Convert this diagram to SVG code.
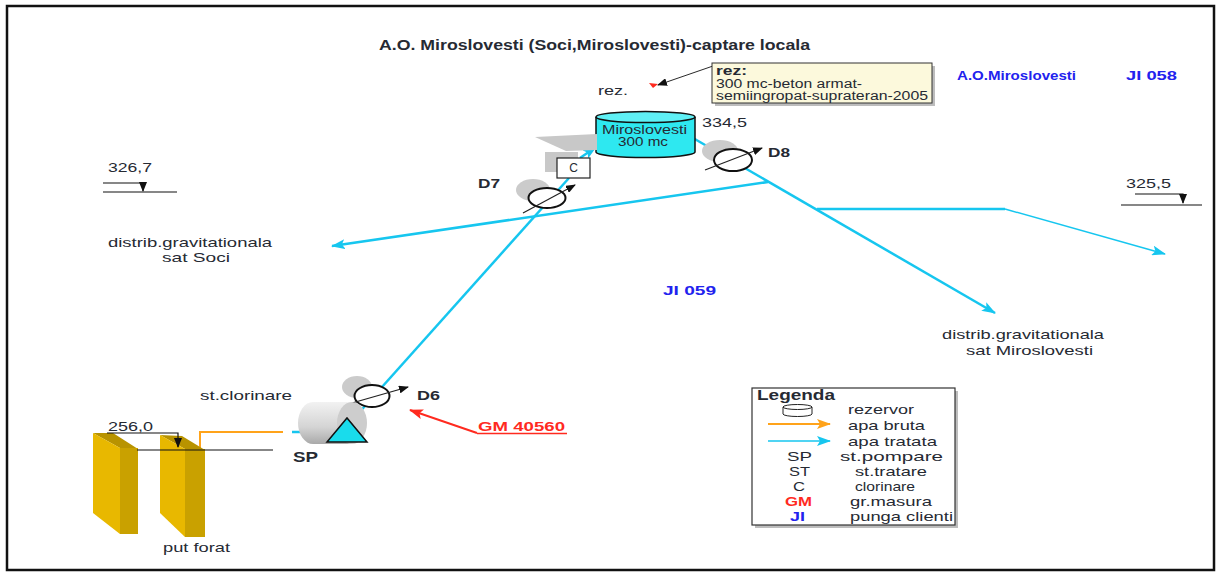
<svg xmlns="http://www.w3.org/2000/svg" width="1217" height="575" viewBox="0 0 1217 575">
  <style>
    .t { font-family: "Liberation Sans", Arial, sans-serif; fill: #262a33; }
    .n { font-size: 13px; }
    .s { font-size: 12px; }
    .l { font-size: 13px; }
    .b { font-weight: bold; }
    .blue { fill: #2222ee; font-weight: bold; }
    .red { fill: #ff2a1f; font-weight: bold; }
    .pipe { stroke: #16c6ef; stroke-width: 2.5; fill: none; }
    .pipe-thin { stroke: #16c6ef; stroke-width: 1.5; fill: none; }
    .raw { stroke: #ffa31a; stroke-width: 2; fill: none; }
    .lvl { stroke: #111; stroke-width: 1.2; fill: none; }
    .meter { fill: #fff; stroke: #111; stroke-width: 2; }
    .halo { fill: #cbcbcb; }
    .needle { stroke: #222; stroke-width: 1.2; }
  </style>
  <defs>
    <marker id="arrCyan" markerUnits="userSpaceOnUse" markerWidth="14" markerHeight="10" refX="13" refY="5" orient="auto">
      <path d="M0,0 L14,5 L0,10 L3,5 Z" fill="#16c6ef"/>
    </marker>
    <marker id="arrBlack" markerUnits="userSpaceOnUse" markerWidth="10" markerHeight="8" refX="9" refY="4" orient="auto">
      <path d="M0,0 L10,4 L0,8 Z" fill="#111"/>
    </marker>
    <marker id="arrRed" markerUnits="userSpaceOnUse" markerWidth="14" markerHeight="10" refX="13" refY="5" orient="auto">
      <path d="M0,0 L14,5 L0,10 L3,5 Z" fill="#ff2a1f"/>
    </marker>
    <marker id="arrOrange" markerUnits="userSpaceOnUse" markerWidth="14" markerHeight="10" refX="13" refY="5" orient="auto">
      <path d="M0,0 L14,5 L0,10 L3,5 Z" fill="#ffa31a"/>
    </marker>
    <linearGradient id="pumpBody" x1="0" y1="0" x2="0" y2="1">
      <stop offset="0" stop-color="#f2f2f2"/>
      <stop offset="0.6" stop-color="#d4d4d4"/>
      <stop offset="1" stop-color="#a9a9a9"/>
    </linearGradient>
  </defs>

  <!-- sheet frame -->
  <rect x="7" y="6" width="1207" height="564" fill="none" stroke="#111" stroke-width="2.5"/>

  <!-- title and zone labels -->
  <text class="t b" x="379" y="50" font-size="14" textLength="431" lengthAdjust="spacingAndGlyphs">A.O. Miroslovesti (Soci,Miroslovesti)-captare locala</text>
  <text class="t blue" x="957" y="80" font-size="13" textLength="119" lengthAdjust="spacingAndGlyphs">A.O.Miroslovesti</text>
  <text class="t blue" x="1126" y="80" font-size="13" textLength="51" lengthAdjust="spacingAndGlyphs">JI 058</text>
  <text class="t blue" x="663" y="295" font-size="13" textLength="53" lengthAdjust="spacingAndGlyphs">JI 059</text>

  <!-- connectors -->
  <g id="connectors">
    <line class="pipe" x1="348" y1="425" x2="569" y2="178"/>
    <line class="pipe" x1="580" y1="158" x2="596" y2="147" marker-end="url(#arrCyan)"/>
    <line class="pipe" x1="693" y1="138" x2="995" y2="313" marker-end="url(#arrCyan)"/>
    <line class="pipe" x1="768" y1="182" x2="332" y2="246" marker-end="url(#arrCyan)"/>
    <line class="pipe" x1="817" y1="209" x2="1005" y2="209"/>
    <line class="pipe-thin" x1="1005" y1="209" x2="1165" y2="254" marker-end="url(#arrCyan)"/>
    <polyline class="raw" points="200,450 200,432 283,432"/>
    <line class="pipe" x1="292" y1="432" x2="313" y2="432"/>
    <line stroke="#ff2a1f" stroke-width="2" x1="477" y1="433" x2="410" y2="410" marker-end="url(#arrRed)"/>
    <line stroke="#111" stroke-width="0.9" x1="713" y1="66" x2="658" y2="85" marker-end="url(#arrBlack)"/>
  </g>

  <!-- reservoir -->
  <g id="reservoir">
    <text class="t n" x="598" y="95" textLength="30" lengthAdjust="spacingAndGlyphs">rez.</text>
    <polygon points="649,83 658,84 653,88" fill="#ff2a1f"/>
    <path d="M596,117 V152 A49.5,5.5 0 0 0 695,152 V117" fill="#2ee8f0" stroke="#111" stroke-width="1.5"/>
    <ellipse cx="645.5" cy="117" rx="49.5" ry="5.5" fill="#5ff0f5" stroke="#111" stroke-width="1.5"/>
    <text class="t s" x="602" y="134" textLength="85" lengthAdjust="spacingAndGlyphs">Miroslovesti</text>
    <text class="t s" x="618" y="146" textLength="50" lengthAdjust="spacingAndGlyphs">300 mc</text>
    <text class="t n" x="702" y="127" textLength="45" lengthAdjust="spacingAndGlyphs">334,5</text>
  </g>

  <!-- reservoir note -->
  <g id="note">
    <rect x="715" y="66" width="220" height="40" fill="#bdbdbd"/>
    <rect x="712" y="63" width="220" height="40" fill="#fcf9dc" stroke="#333" stroke-width="1"/>
    <text class="t s b" x="716" y="75" textLength="31" lengthAdjust="spacingAndGlyphs">rez:</text>
    <text class="t s" x="716" y="88" textLength="146" lengthAdjust="spacingAndGlyphs">300 mc-beton armat-</text>
    <text class="t s" x="716" y="100" textLength="212" lengthAdjust="spacingAndGlyphs">semiingropat-suprateran-2005</text>
  </g>

  <!-- chlorination unit -->
  <g id="chlorination">
    <polygon points="535,137 597,134 597,150 566,151" fill="#c8c8c8"/>
    <rect x="545" y="152" width="33" height="20" fill="#c8c8c8"/>
    <rect x="557" y="158" width="33" height="20" fill="#fff" stroke="#222" stroke-width="1.2"/>
    <text class="t s" x="573.5" y="172" text-anchor="middle">C</text>
  </g>

  <!-- meter D7 -->
  <g id="meter-d7">
    <ellipse class="halo" cx="533" cy="190" rx="17" ry="11"/>
    <ellipse class="meter" cx="547" cy="198" rx="18.5" ry="10"/>
    <line class="needle" x1="523" y1="213" x2="575" y2="185" marker-end="url(#arrBlack)"/>
    <text class="t b" x="478" y="188" font-size="13" textLength="22" lengthAdjust="spacingAndGlyphs">D7</text>
  </g>

  <!-- meter D8 -->
  <g id="meter-d8">
    <ellipse class="halo" cx="720" cy="151" rx="18" ry="11"/>
    <ellipse class="meter" cx="733" cy="160" rx="19" ry="11"/>
    <line class="needle" x1="705" y1="170" x2="762" y2="148" marker-end="url(#arrBlack)"/>
    <text class="t b" x="768" y="157" font-size="13" textLength="22" lengthAdjust="spacingAndGlyphs">D8</text>
  </g>

  <!-- meter D6 -->
  <g id="meter-d6">
    <ellipse class="halo" cx="357" cy="387" rx="15" ry="11"/>
    <ellipse class="meter" cx="372" cy="396" rx="17.5" ry="11"/>
    <line class="needle" x1="345" y1="405" x2="408" y2="387" marker-end="url(#arrBlack)"/>
    <text class="t b" x="417" y="400" font-size="13" textLength="23" lengthAdjust="spacingAndGlyphs">D6</text>
  </g>

  <!-- pumping station -->
  <g id="pump-station">
    <text class="t n" x="200" y="400" textLength="92" lengthAdjust="spacingAndGlyphs">st.clorinare</text>
    <path d="M313,402 H352 V444 H313 A15,21 0 0 1 313,402 Z" fill="url(#pumpBody)"/>
    <ellipse cx="352" cy="423" rx="15" ry="21" fill="#cdcdcd"/>
    <polygon points="327,442 367,442 347,418" fill="#19dcec" stroke="#111" stroke-width="1.5"/>
    <text class="t b" x="293" y="462" font-size="14" textLength="25" lengthAdjust="spacingAndGlyphs">SP</text>
  </g>

  <!-- meter tag GM -->
  <g id="gm-tag">
    <text class="t red" x="478" y="431" font-size="13" textLength="87" lengthAdjust="spacingAndGlyphs">GM 40560</text>
    <line x1="477" y1="433.5" x2="567" y2="433.5" stroke="#ff2a1f" stroke-width="1.5"/>
  </g>

  <!-- wells -->
  <g id="wells">
    <polygon points="93,433 113,433 138,449 120,448" fill="#b89300"/>
    <polygon points="93,433 120,448 120,534 93,513" fill="#e8b800"/>
    <rect x="120" y="448" width="18" height="86" fill="#c9a100"/>
    <polygon points="160,435 182,436 205,450 185,449" fill="#b89300"/>
    <polygon points="160,435 185,449 185,537 160,513" fill="#e8b800"/>
    <rect x="185" y="449" width="20" height="88" fill="#c9a100"/>
    <text class="t n" x="163" y="552" textLength="67" lengthAdjust="spacingAndGlyphs">put forat</text>
  </g>

  <!-- level 256,0 -->
  <g id="level-256">
    <text class="t n" x="108" y="431" textLength="45" lengthAdjust="spacingAndGlyphs">256,0</text>
    <polyline class="lvl" points="107,433 178,433 178,447" marker-end="url(#arrBlack)"/>
    <line class="lvl" x1="137" y1="450" x2="273" y2="450"/>
  </g>

  <!-- level 326,7 -->
  <g id="level-326">
    <text class="t n" x="108" y="172" textLength="44" lengthAdjust="spacingAndGlyphs">326,7</text>
    <polyline class="lvl" points="103,183 143,183 143,191" marker-end="url(#arrBlack)"/>
    <line class="lvl" x1="103" y1="192" x2="177" y2="192"/>
  </g>

  <!-- level 325,5 -->
  <g id="level-325">
    <text class="t n" x="1126" y="188" textLength="45" lengthAdjust="spacingAndGlyphs">325,5</text>
    <polyline class="lvl" points="1135,194 1183,194 1183,203" marker-end="url(#arrBlack)"/>
    <line class="lvl" x1="1121" y1="205" x2="1202" y2="205"/>
  </g>

  <!-- distribution outlets -->
  <g id="out-soci">
    <text class="t n" x="108" y="247" textLength="164" lengthAdjust="spacingAndGlyphs">distrib.gravitationala</text>
    <text class="t n" x="162" y="262" textLength="68" lengthAdjust="spacingAndGlyphs">sat Soci</text>
  </g>
  <g id="out-miroslovesti">
    <text class="t n" x="942" y="339" textLength="162" lengthAdjust="spacingAndGlyphs">distrib.gravitationala</text>
    <text class="t n" x="966" y="355" textLength="127" lengthAdjust="spacingAndGlyphs">sat Miroslovesti</text>
  </g>

  <!-- legend -->
  <g id="legend">
    <rect x="755" y="391" width="203" height="137" fill="#bdbdbd"/>
    <rect x="752" y="388" width="203" height="137" fill="#fff" stroke="#333" stroke-width="1.2"/>
    <text class="t b" x="757" y="400" font-size="14" textLength="78" lengthAdjust="spacingAndGlyphs">Legenda</text>
    <path d="M783,407 V414 A14.5,2.5 0 0 0 812,414 V407" fill="#fff" stroke="#222" stroke-width="1"/>
    <ellipse cx="797.5" cy="407" rx="14.5" ry="2.5" fill="#fff" stroke="#222" stroke-width="1"/>
    <text class="t l" x="848" y="414" textLength="66" lengthAdjust="spacingAndGlyphs">rezervor</text>
    <line class="raw" x1="768" y1="424" x2="830" y2="424" marker-end="url(#arrOrange)"/>
    <text class="t l" x="848" y="430" textLength="77" lengthAdjust="spacingAndGlyphs">apa bruta</text>
    <line class="pipe-thin" x1="768" y1="441" x2="830" y2="441" marker-end="url(#arrCyan)"/>
    <text class="t l" x="848" y="446" textLength="89" lengthAdjust="spacingAndGlyphs">apa tratata</text>
    <text class="t l" x="787" y="461" textLength="25" lengthAdjust="spacingAndGlyphs">SP</text>
    <text class="t l" x="840" y="461" textLength="103" lengthAdjust="spacingAndGlyphs">st.pompare</text>
    <text class="t l" x="789" y="476" textLength="21" lengthAdjust="spacingAndGlyphs">ST</text>
    <text class="t l" x="855" y="476" textLength="72" lengthAdjust="spacingAndGlyphs">st.tratare</text>
    <text class="t l" x="793" y="491" textLength="12" lengthAdjust="spacingAndGlyphs">C</text>
    <text class="t l" x="855" y="491" textLength="60" lengthAdjust="spacingAndGlyphs">clorinare</text>
    <text class="t red" x="785" y="506" font-size="13" textLength="27" lengthAdjust="spacingAndGlyphs">GM</text>
    <text class="t l" x="850" y="506" textLength="82" lengthAdjust="spacingAndGlyphs">gr.masura</text>
    <text class="t blue" x="790" y="521" font-size="13" textLength="15" lengthAdjust="spacingAndGlyphs">JI</text>
    <text class="t l" x="850" y="521" textLength="103" lengthAdjust="spacingAndGlyphs">punga clienti</text>
  </g>
</svg>
